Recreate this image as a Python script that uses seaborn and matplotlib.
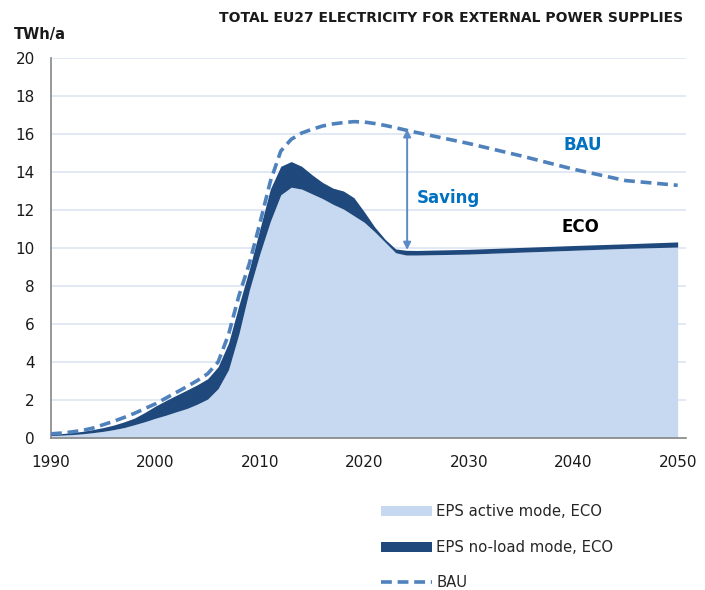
import numpy as np
import pandas as pd
import seaborn as sns
import matplotlib.pyplot as plt
from matplotlib.patches import Patch
from matplotlib.lines import Line2D
from matplotlib.ticker import MultipleLocator

# --- data (TWh/a) ---
years = [1990, 1991, 1992, 1993, 1994, 1995, 1996, 1997, 1998, 1999,
         2000, 2001, 2002, 2003, 2004, 2005, 2006, 2007, 2008, 2009,
         2010, 2011, 2012, 2013, 2014, 2015, 2016, 2017, 2018, 2019,
         2020, 2021, 2022, 2023, 2024, 2025, 2030, 2035, 2040, 2045, 2050]

eps_active = [0.13, 0.15, 0.18, 0.22, 0.28, 0.35, 0.44, 0.55, 0.70, 0.86,
              1.04, 1.20, 1.38, 1.55, 1.78, 2.05, 2.60, 3.60, 5.50, 7.80,
              9.70, 11.4, 12.8, 13.2, 13.1, 12.85, 12.6, 12.3, 12.05, 11.7,
              11.35, 10.85, 10.3, 9.75, 9.63, 9.63, 9.68, 9.78, 9.88, 9.98, 10.05]

eps_total = [0.20, 0.23, 0.28, 0.35, 0.44, 0.55, 0.68, 0.85, 1.05, 1.35,
             1.68, 1.97, 2.25, 2.52, 2.80, 3.12, 3.75, 5.00, 7.00, 8.90,
             11.0, 13.1, 14.3, 14.55, 14.3, 13.85, 13.45, 13.15, 13.0, 12.65,
             11.9, 11.1, 10.45, 9.95, 9.88, 9.87, 9.93, 10.03, 10.13, 10.22, 10.32]

bau = [0.22, 0.26, 0.32, 0.40, 0.52, 0.70, 0.88, 1.08, 1.30, 1.55,
       1.80, 2.10, 2.40, 2.70, 3.02, 3.38, 4.00, 5.45, 7.50, 9.20,
       11.3, 13.5, 15.1, 15.72, 16.05, 16.25, 16.42, 16.53, 16.6, 16.65,
       16.63, 16.55, 16.45, 16.33, 16.2, 16.08, 15.5, 14.85, 14.15, 13.55, 13.3]

df = pd.DataFrame({"year": years, "active": eps_active,
                   "total": eps_total, "bau": bau})

# colours
light = "#c6d9f1"
dark = "#1f497d"
bau_col = "#4f81bd"
blue_txt = "#0070c0"
grid_col = "#dce6f2"
axis_col = "#868686"

sns.set_style("white")
plt.rcParams["font.family"] = ["DejaVu Sans"]

fig = plt.figure(figsize=(7.05, 5.9), dpi=100)
ax = fig.add_axes([51 / 705, 1 - 438 / 590, (686 - 51) / 705, (438 - 58) / 590])

# stacked areas
ax.fill_between(df["year"], 0, df["active"], color=light, lw=0, zorder=2)
ax.fill_between(df["year"], df["active"], df["total"], color=dark, lw=0, zorder=3)

# BAU dashed line
sns.lineplot(data=df, x="year", y="bau", ax=ax, color=bau_col, lw=2.6,
             linestyle=(0, (3, 1.6)), zorder=4)

# saving arrow
ax.annotate("", xy=(2024.1, 16.25), xytext=(2024.1, 9.9),
            arrowprops=dict(arrowstyle="<|-|>", color="#5b8ac6", lw=1.4,
                            mutation_scale=11, shrinkA=0, shrinkB=0), zorder=5)
ax.text(2025.0, 12.65, "Saving", color=blue_txt, fontsize=12,
        fontweight="bold", ha="left", va="center")
ax.text(2040.9, 15.4, "BAU", color=blue_txt, fontsize=12,
        fontweight="bold", ha="center", va="center")
ax.text(2040.7, 11.1, "ECO", color="black", fontsize=12,
        fontweight="bold", ha="center", va="center")

# axes formatting
ax.set_xlim(1990, 2050.8)
ax.set_ylim(0, 20)
ax.xaxis.set_major_locator(MultipleLocator(10))
ax.xaxis.set_minor_locator(MultipleLocator(5))
ax.yaxis.set_major_locator(MultipleLocator(2))
ax.grid(axis="y", color=grid_col, lw=1.2, zorder=0)
ax.grid(axis="x", visible=False)
ax.set_axisbelow(True)
for s in ["top", "right"]:
    ax.spines[s].set_visible(False)
for s in ["left", "bottom"]:
    ax.spines[s].set_color(axis_col)
    ax.spines[s].set_linewidth(1.2)
ax.tick_params(axis="both", which="both", direction="out", color=axis_col,
               labelsize=11, labelcolor="#1a1a1a")
ax.tick_params(axis="x", which="both", length=4, pad=8)
ax.tick_params(axis="y", length=3.6, pad=8)
ax.set_xlabel("")
ax.set_ylabel("")

# titles
fig.text(683 / 705, 1 - 18 / 590, "TOTAL EU27 ELECTRICITY FOR EXTERNAL POWER SUPPLIES",
         ha="right", va="center", fontsize=10, fontweight="bold", color="#1a1a1a")
fig.text(14 / 705, 1 - 34 / 590, "TWh/a", ha="left", va="center",
         fontsize=10.5, fontweight="bold", color="#1a1a1a")

# legend
handles = [Patch(facecolor=light, edgecolor="none", label="EPS active mode, ECO"),
           Patch(facecolor=dark, edgecolor="none", label="EPS no-load mode, ECO"),
           Line2D([0], [0], color=bau_col, lw=2.6, linestyle=(0, (3, 1.6)), label="BAU")]
fig.legend(handles=handles, loc="upper left", bbox_to_anchor=(374 / 705, 1 - 497 / 590),
           frameon=False, fontsize=10.7, handlelength=3.4, handleheight=0.65,
           labelspacing=1.37, handletextpad=0.3, borderpad=0)

fig.savefig("out.png", dpi=100)
